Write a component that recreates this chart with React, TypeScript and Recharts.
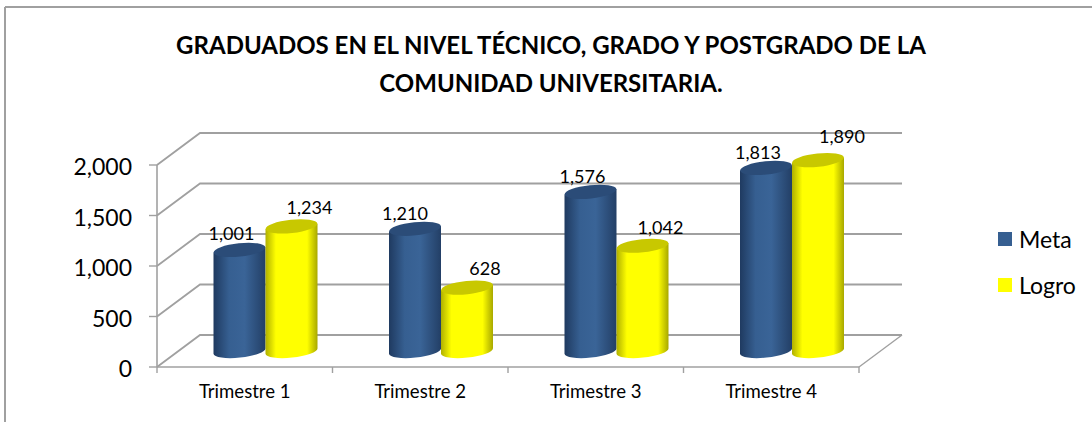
/**
 * Graduados por trimestre - pseudo 3D cylinder chart (Excel look) using Recharts
 */
import { BarChart, Bar, XAxis, YAxis, CartesianGrid, Legend } from 'recharts';

const CATEGORIES = ['Trimestre 1', 'Trimestre 2', 'Trimestre 3', 'Trimestre 4'];
const META = [1001, 1210, 1576, 1813];
const LOGRO = [1234, 628, 1042, 1890];
const Y_TICKS = [0, 500, 1000, 1500, 2000];
const TITLE_LINES = [
  'GRADUADOS EN EL NIVEL TÉCNICO, GRADO Y POSTGRADO DE LA',
  'COMUNIDAD UNIVERSITARIA.',
];

const chartData = CATEGORIES.map((name, i) => ({ name, Meta: META[i], Logro: LOGRO[i] }));

const FONT = 'Lato, sans-serif';
const GRID = '#a0a0a0';
const WIDTH = 1092;
const HEIGHT = 422;
const PLOT = { left: 157, right: 859, top: 165, bottom: 367 };
const BAND = (PLOT.right - PLOT.left) / CATEGORIES.length;

// depth of the fake 3D box, and where the bars stand inside it
const WALL = { dx: 43, dy: -32 };
const BAR_DEPTH = { dx: 20.5, dy: -16 };
const RX = 26;
const RY = 6.6;
const TILT = -6;
const TILT_RISE = 2.7;

// data labels were hand placed in the original
const LABEL_NUDGE: Record<string, { dx: number; dy: number }[]> = {
  Meta: [
    { dx: -8, dy: -17 },
    { dx: -10, dy: -16 },
    { dx: -8, dy: -16 },
    { dx: -8, dy: -16 },
  ],
  Logro: [
    { dx: 18, dy: -19 },
    { dx: 18, dy: -20 },
    { dx: 18, dy: -19 },
    { dx: 24, dy: -24 },
  ],
};

const GridLine = ({ x1, x2, y1 }: any) => {
  const isFloor = y1 >= PLOT.bottom - 0.5;
  return (
    <g>
      <polyline
        points={`${x1},${y1} ${x1 + WALL.dx},${y1 + WALL.dy} ${x2 + WALL.dx},${y1 + WALL.dy}`}
        fill="none"
        stroke={GRID}
        strokeWidth={1.8}
      />
      {isFloor && (
        <line x1={x2} y1={y1} x2={x2 + WALL.dx} y2={y1 + WALL.dy} stroke={GRID} strokeWidth={1.4} />
      )}
    </g>
  );
};

const Cylinder = ({ x, y, width, height, dataKey }: any) => {
  const left = x + BAR_DEPTH.dx;
  const right = left + width;
  const top = y + BAR_DEPTH.dy;
  const base = y + height + BAR_DEPTH.dy;
  const cx = left + width / 2;
  const capFill = dataKey === 'Meta' ? '#2b4c78' : '#c8c800';
  return (
    <g>
      <path
        d={`M${left},${top + TILT_RISE} L${right},${top - TILT_RISE} L${right},${base - TILT_RISE} A${RX},${RY} ${TILT} 0 1 ${left},${base + TILT_RISE} Z`}
        fill={`url(#grad-${dataKey})`}
      />
      <ellipse
        cx={cx}
        cy={top}
        rx={RX}
        ry={RY}
        fill={capFill}
        transform={`rotate(${TILT} ${cx} ${top})`}
      />
    </g>
  );
};

const makeLabel = (key: string) => ({ x, y, width, value, index }: any) => {
  const nudge = LABEL_NUDGE[key][index];
  return (
    <text
      x={x + width / 2 + BAR_DEPTH.dx + nudge.dx}
      y={y + BAR_DEPTH.dy + nudge.dy}
      textAnchor="middle"
      dominantBaseline="central"
      fontFamily={FONT}
      fontSize={18}
      fill="#000"
    >
      {Number(value).toLocaleString('en-US')}
    </text>
  );
};

const CategoryTick = ({ x, y, payload, index }: any) => (
  <g>
    <line x1={x - BAND / 2} y1={PLOT.bottom} x2={x - BAND / 2} y2={PLOT.bottom + 6} stroke={GRID} strokeWidth={1.4} />
    {index === CATEGORIES.length - 1 && (
      <line x1={x + BAND / 2} y1={PLOT.bottom} x2={x + BAND / 2} y2={PLOT.bottom + 6} stroke={GRID} strokeWidth={1.4} />
    )}
    <text x={x} y={y + 16} textAnchor="middle" dominantBaseline="central" fontFamily={FONT} fontSize={18.6} fill="#000">
      {payload.value}
    </text>
  </g>
);

const LegendBox = ({ payload }: any) => (
  <div style={{ fontFamily: FONT, fontSize: 23, color: '#000' }}>
    {payload.map((entry: any) => (
      <div key={entry.value} style={{ display: 'flex', alignItems: 'center', height: 46 }}>
        <div style={{ width: 14, height: 14, marginRight: 7, background: entry.color }} />
        <span>{entry.value}</span>
      </div>
    ))}
  </div>
);

export default function App() {
  return (
    <div style={{ position: 'absolute', left: 0, top: 0, width: WIDTH, height: HEIGHT, background: '#fff', overflow: 'hidden' }}>
      <BarChart
        width={WIDTH}
        height={HEIGHT}
        data={chartData}
        barSize={52}
        barGap={0}
        margin={{ top: PLOT.top, right: WIDTH - PLOT.right, bottom: 0, left: 0 }}
      >
        <defs>
          <linearGradient id="grad-Meta" x1="0" y1="0" x2="1" y2="0">
            <stop offset="0" stopColor="#1f3a60" />
            <stop offset="0.3" stopColor="#365f91" />
            <stop offset="0.6" stopColor="#3a6497" />
            <stop offset="1" stopColor="#233f66" />
          </linearGradient>
          <linearGradient id="grad-Logro" x1="0" y1="0" x2="1" y2="0">
            <stop offset="0" stopColor="#b0b000" />
            <stop offset="0.2" stopColor="#ffff00" />
            <stop offset="0.8" stopColor="#ffff00" />
            <stop offset="1" stopColor="#a8a800" />
          </linearGradient>
        </defs>
        <line x1={5} y1={7} x2={WIDTH} y2={7} stroke={GRID} strokeWidth={2} />
        <line x1={5} y1={7} x2={5} y2={HEIGHT} stroke={GRID} strokeWidth={2} />
        {TITLE_LINES.map((line, i) => (
          <text
            key={line}
            x={551}
            y={54 + i * 38}
            textAnchor="middle"
            fontFamily={FONT}
            fontWeight={700}
            fontSize={24}
            fill="#000"
          >
            {line}
          </text>
        ))}
        <CartesianGrid vertical={false} horizontal={(props: any) => <GridLine key={props.key} {...props} />} />
        <XAxis
          dataKey="name"
          height={55}
          tickLine={false}
          axisLine={{ stroke: GRID, strokeWidth: 1.6 }}
          tick={CategoryTick}
          interval={0}
        />
        <YAxis
          width={PLOT.left}
          domain={[0, 2000]}
          ticks={Y_TICKS}
          tickFormatter={(v: number) => v.toLocaleString('en-US')}
          tick={{ fontFamily: FONT, fontSize: 23, fill: '#000', dy: 2 }}
          tickSize={8}
          tickMargin={17}
          tickLine={{ stroke: GRID, strokeWidth: 1.4 }}
          axisLine={{ stroke: GRID, strokeWidth: 1.6 }}
        />
        <Bar dataKey="Meta" fill="#365f91" isAnimationActive={false} shape={Cylinder} label={makeLabel('Meta')} />
        <Bar dataKey="Logro" fill="#ffff00" isAnimationActive={false} shape={Cylinder} label={makeLabel('Logro')} />
        <Legend
          layout="vertical"
          align="center"
          verticalAlign="middle"
          itemSorter={null}
          content={LegendBox}
          wrapperStyle={{ left: 998, top: 216, width: 90, bottom: 'auto', right: 'auto' }}
        />
      </BarChart>
    </div>
  );
}
